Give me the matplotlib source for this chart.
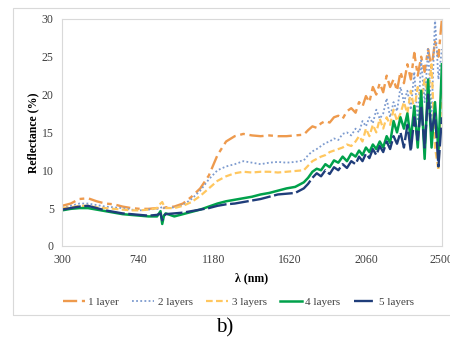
import matplotlib
matplotlib.use("Agg")
import matplotlib.pyplot as plt
from matplotlib.patches import Rectangle

wavelength = [300, 350, 400, 450, 500, 550, 600, 650, 700, 750, 800, 850, 870, 880, 890,
              900, 950, 1000, 1050, 1100, 1150, 1200, 1250, 1300, 1350, 1400, 1450, 1500,
              1550, 1600, 1650, 1700,
              1725, 1750, 1775, 1800, 1825, 1850, 1875, 1900, 1925, 1950, 1975, 2000,
              2020, 2040, 2060, 2080, 2100, 2120, 2140, 2160, 2180, 2200, 2220, 2240,
              2260, 2280, 2300, 2320, 2340, 2360, 2380, 2400, 2420, 2440, 2460, 2480, 2500]

layer1 = [5.3, 5.6, 6.2, 6.3, 5.9, 5.6, 5.5, 5.2, 5.0, 4.9, 4.9, 5.0, 5.0, 5.1, 5.0,
          5.1, 5.2, 5.6, 6.5, 7.6, 9.3, 12.0, 13.8, 14.5, 14.8, 14.6, 14.5, 14.6,
          14.5, 14.5, 14.6, 14.7,
          15.3, 15.8, 15.6, 16.2, 16.5, 16.3, 17.0, 17.2, 16.8, 17.8, 18.2, 17.6,
          19.0, 18.4, 19.8, 19.0, 21.0, 20.0, 21.5, 20.3, 22.5, 21.0, 22.0, 20.5,
          23.0, 21.5, 24.0, 22.0, 25.5, 22.5, 25.0, 23.0, 26.0, 23.5, 27.0, 25.0, 30.0]

layer2 = [5.0, 5.3, 5.6, 5.6, 5.4, 5.2, 5.1, 5.0, 4.8, 4.7, 4.8, 4.9, 5.0, 5.2, 5.0,
          5.0, 5.1, 5.4, 6.2, 7.3, 8.8, 10.0, 10.5, 10.8, 11.2, 11.0, 10.8, 11.0,
          11.1, 11.0, 11.1, 11.3,
          12.0, 12.5, 12.8, 13.2, 13.6, 13.8, 14.2, 14.0, 14.8, 15.0, 14.6, 15.5,
          15.0, 16.5, 15.8, 17.0, 16.2, 18.0, 16.8, 17.5, 19.5, 17.0, 19.0, 17.8,
          21.0, 19.0, 20.5, 18.0, 23.0, 16.5, 24.5, 19.0, 26.0, 17.0, 30.0, 22.0, 26.0]

layer3 = [5.0, 5.1, 5.3, 5.3, 5.1, 5.0, 4.9, 4.8, 4.7, 4.7, 4.8, 5.0, 5.6, 5.8, 5.3,
          5.0, 5.0, 5.3, 5.8, 6.6, 7.6, 8.6, 9.2, 9.6, 9.8, 9.7, 9.8, 9.8,
          9.7, 9.8, 9.9, 10.0,
          10.6, 11.2, 11.5, 11.8, 12.0, 12.4, 12.6, 12.8, 13.0, 13.4, 13.2, 13.8,
          14.5, 13.8, 15.5, 14.5, 16.0, 15.0, 16.8, 15.5, 17.0, 16.0, 18.0, 16.5,
          17.5, 19.0, 17.5, 20.5, 18.0, 21.0, 19.5, 22.0, 20.0, 24.0, 13.0, 10.0, 22.0]

layer4 = [4.7, 4.9, 5.0, 5.0, 4.8, 4.6, 4.4, 4.2, 4.1, 4.0, 3.9, 3.9, 4.6, 2.9, 4.0,
          4.3, 3.9, 4.2, 4.5, 4.8, 5.2, 5.6, 5.9, 6.1, 6.3, 6.5, 6.8, 7.0,
          7.3, 7.6, 7.8, 8.4,
          9.0, 9.8, 10.2, 10.0, 10.8, 10.4, 11.3, 11.0, 11.8, 11.2, 12.2, 11.8,
          12.6, 12.0, 13.0, 12.4, 13.4, 12.8, 13.8, 13.0, 14.5, 13.6, 16.5, 15.0,
          17.0, 15.5, 17.5, 14.0, 18.5, 13.0, 20.5, 11.5, 22.0, 13.0, 19.0, 12.5, 24.0]

layer5 = [4.8, 5.0, 5.2, 5.3, 5.0, 4.7, 4.5, 4.3, 4.2, 4.1, 4.0, 4.1, 4.3, 3.4, 4.0,
          4.2, 4.3, 4.4, 4.6, 4.8, 5.0, 5.3, 5.5, 5.6, 5.8, 6.0, 6.2, 6.5,
          6.8, 6.9, 7.0, 7.6,
          8.2, 9.0, 9.6, 9.2, 10.0, 9.5, 10.4, 10.0, 10.8, 10.3, 11.2, 10.8,
          11.8, 11.2, 12.2, 11.6, 12.8, 12.0, 13.2, 12.4, 13.8, 12.8, 14.5, 13.5,
          15.0, 13.0, 16.0, 12.5, 17.0, 14.0, 18.5, 13.0, 20.0, 15.0, 17.5, 10.5, 17.0]

labels = ["1 layer", "2 layers", "3 layers", "4 layers", "5 layers"]
x_ticks = [300, 740, 1180, 1620, 2060, 2500]
y_ticks = [0, 5, 10, 15, 20, 25, 30]

plt.rcParams['font.family'] = ['Liberation Serif', 'DejaVu Serif']

fig = plt.figure(figsize=(4.5, 3.43), dpi=100)
ax = fig.add_axes([0.138, 0.283, 0.844, 0.662])

series = [layer1, layer2, layer3, layer4, layer5]
styles = [
    dict(color="#EE9A4D", lw=1.7, dashes=(6, 2, 2, 2)),
    dict(color="#7D9BCF", lw=1.3, dashes=(1, 1.3)),
    dict(color="#FFC75F", lw=1.6, dashes=(3, 1.5)),
    dict(color="#00A14B", lw=1.8),
    dict(color="#1F3D7A", lw=1.7, dashes=(8, 1.5)),
]
for ys, lab, st in zip(series, labels, styles):
    ax.plot(wavelength, ys, label=lab, **st)

ax.set_xlim(300, 2500)
ax.set_ylim(0, 30)
ax.set_xticks(x_ticks)
ax.set_yticks(y_ticks)
ax.tick_params(length=0, labelsize=8.5, labelcolor="#404040", pad=6)
for sp in ax.spines.values():
    sp.set_color("#D9D9D9")
    sp.set_linewidth(0.8)

ax.set_xlabel("λ (nm)", fontsize=8.5, fontweight="bold", labelpad=4)
ax.set_ylabel("Reflectance (%)", fontsize=8.5, fontweight="bold", labelpad=2)

leg = fig.legend(loc="center", bbox_to_anchor=(0.53, 0.12), ncol=5, frameon=False,
                 fontsize=8, handlelength=2.0, columnspacing=1.2, handletextpad=0.3)
for t in leg.get_texts():
    t.set_color("#404040")

fig.patches.append(Rectangle((0.029, 0.082), 1.0, 0.895, transform=fig.transFigure,
                             fill=False, edgecolor="#D9D9D9", lw=0.8))
fig.text(0.5, 0.045, "b)", ha="center", va="center", fontsize=15)

fig.savefig("out.png", dpi=100)
